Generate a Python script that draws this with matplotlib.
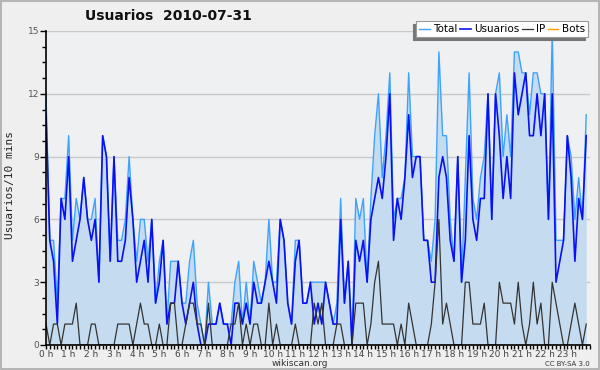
import matplotlib
matplotlib.use("Agg")
import matplotlib.pyplot as plt
from matplotlib.ticker import MultipleLocator, FixedLocator
from matplotlib.patches import Rectangle

# Data: one value every 10 minutes, 2010-07-31
usuarios = [11, 5, 4, 1, 7, 6, 9, 4, 5, 6, 8, 6, 5, 6, 3, 10, 9, 4, 9, 4,
            4, 5, 8, 6, 3, 4, 5, 3, 6, 2, 3, 5, 1, 2, 2, 4, 2, 1, 2, 3,
            1, 0, 0, 1, 1, 1, 2, 1, 1, 0, 2, 2, 1, 2, 1, 3, 2, 2, 3, 4,
            3, 2, 6, 5, 2, 1, 4, 5, 2, 2, 3, 1, 2, 1, 3, 2, 1, 1, 6, 2,
            4, 0, 5, 4, 5, 3, 6, 7, 8, 7, 9, 12, 5, 7, 6, 8, 11, 8, 9, 9,
            5, 5, 3, 3, 8, 9, 8, 5, 4, 9, 3, 5, 10, 6, 5, 7, 7, 12, 6, 12,
            10, 7, 9, 7, 13, 11, 12, 13, 10, 10, 12, 10, 12, 6, 12, 3, 4, 5, 10, 8,
            4, 7, 6, 10]
ip = [1, 0, 1, 1, 0, 1, 1, 1, 2, 0, 0, 0, 1, 1, 0, 0, 0, 0, 0, 1,
      1, 1, 1, 0, 1, 2, 1, 1, 0, 0, 1, 0, 0, 2, 2, 0, 0, 1, 2, 2,
      1, 1, 0, 2, 0, 0, 0, 0, 0, 1, 1, 2, 0, 1, 0, 1, 1, 0, 0, 2,
      0, 1, 0, 0, 0, 0, 1, 0, 0, 0, 0, 2, 1, 2, 0, 0, 0, 1, 1, 0,
      0, 0, 2, 2, 2, 0, 1, 3, 4, 1, 1, 1, 1, 0, 1, 0, 2, 1, 0, 0,
      0, 0, 1, 3, 6, 1, 2, 1, 0, 0, 0, 3, 3, 1, 1, 1, 2, 0, 0, 0,
      3, 2, 2, 2, 1, 3, 1, 0, 1, 3, 1, 2, 0, 0, 3, 2, 1, 0, 0, 1,
      2, 1, 0, 1]
total = [12, 5, 5, 2, 7, 7, 10, 5, 7, 6, 8, 6, 6, 7, 3, 10, 9, 4, 9, 5,
         5, 6, 9, 6, 4, 6, 6, 4, 6, 2, 4, 5, 1, 4, 4, 4, 2, 2, 4, 5,
         2, 1, 0, 3, 1, 1, 2, 1, 1, 1, 3, 4, 1, 3, 1, 4, 3, 2, 3, 6,
         3, 3, 6, 5, 2, 1, 5, 5, 2, 2, 3, 3, 3, 3, 3, 2, 1, 2, 7, 2,
         4, 0, 7, 6, 7, 3, 7, 10, 12, 8, 10, 13, 6, 7, 7, 8, 13, 9, 9, 9,
         5, 5, 4, 6, 14, 10, 10, 6, 4, 9, 3, 8, 13, 7, 6, 8, 9, 12, 6, 12,
         13, 9, 11, 9, 14, 14, 13, 13, 11, 13, 13, 12, 12, 6, 15, 5, 5, 5, 10, 9,
         6, 8, 6, 11]
bots = [0] * len(total)
hours = [k / 6 for k in range(len(total))]
hour_labels = ["%d h" % h for h in range(24)]

bg = "#eff0f2"
fig = plt.figure(figsize=(6, 3.7), dpi=100, facecolor="#efefef")
ax = fig.add_axes([46 / 600, 25 / 370, 544 / 600, 314 / 370], facecolor=bg)
fig.patches.append(Rectangle((0.001, 0.002), 0.997, 0.995, transform=fig.transFigure,
                             fill=False, edgecolor="#aaaaaa", lw=1.2))

ax.fill_between(hours, total, color="#c5dcf0", lw=0, zorder=1)
l_bot, = ax.plot(hours, bots, color="#ff9900", lw=1, label="Bots", zorder=2)
l_tot, = ax.plot(hours, total, color="#3ea2ff", lw=1, label="Total", zorder=3)
l_usr, = ax.plot(hours, usuarios, color="#0a10f5", lw=1.2, label="Usuarios", zorder=4)
l_ip, = ax.plot(hours, ip, color="#333333", lw=0.9, label="IP", zorder=5)

ax.set_xlim(0, 24)
ax.set_ylim(0, 15)
for s in ["top", "right"]:
    ax.spines[s].set_visible(False)
ax.spines["left"].set_linewidth(1.2)
ax.spines["bottom"].set_linewidth(1.2)
ax.spines["left"].set_zorder(6)
ax.spines["bottom"].set_zorder(6)

ax.yaxis.set_major_locator(MultipleLocator(3))
ax.yaxis.set_minor_locator(MultipleLocator(0.75))
ax.xaxis.set_major_locator(FixedLocator(list(range(24))))
ax.xaxis.set_minor_locator(MultipleLocator(1 / 6))
ax.set_xticklabels(hour_labels)
ax.tick_params(axis="y", which="major", length=4, width=1, labelsize=6.5,
               labelcolor="#555555", pad=1)
ax.tick_params(axis="x", which="major", length=3, width=1, labelsize=6.5,
               labelcolor="#444444", pad=0.5)
ax.tick_params(axis="both", which="minor", length=3, width=1)
ax.grid(axis="y", color="#c8c8c8", lw=1)
ax.set_axisbelow(True)

fig.text(10 / 600, 0.5, "Usuarios/10 mins", rotation=90, ha="center", va="center",
         family="DejaVu Sans Mono", fontsize=8, color="#222222")
fig.text(85 / 600, 1 - 16 / 370, "Usuarios  2010-07-31", ha="left", va="center",
         fontsize=10, fontweight="bold", color="#111111")
fig.text(0.5, 1 - 363 / 370, "wikiscan.org", ha="center", va="center",
         fontsize=6.5, color="#333333")
fig.text(590 / 600, 1 - 364 / 370, "CC BY-SA 3.0", ha="right", va="center",
         fontsize=5, color="#333333")

leg = fig.legend([l_tot, l_usr, l_ip, l_bot], ["Total", "Usuarios", "IP", "Bots"],
                 ncol=4, loc="upper right", bbox_to_anchor=(593 / 600, 1 - 16 / 370),
                 fontsize=7.5, frameon=True, fancybox=False, framealpha=1,
                 edgecolor="#999999", handlelength=1.0, handletextpad=0.3,
                 columnspacing=0.3, borderpad=0.3,
                 shadow={"ox": -2, "oy": -2, "color": "#777777", "alpha": 1})
leg.get_frame().set_linewidth(0.8)

fig.savefig("out.png", dpi=100, facecolor=fig.get_facecolor())
